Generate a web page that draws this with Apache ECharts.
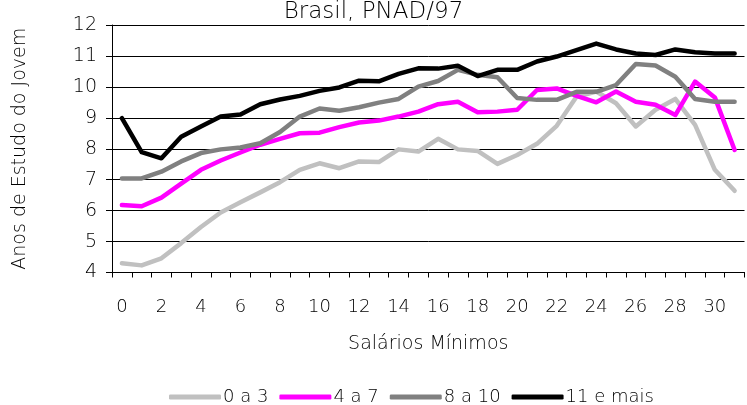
<!DOCTYPE html>
<html>
<head>
<meta charset="utf-8">
<script src="https://cdn.jsdelivr.net/npm/echarts@6/dist/echarts.min.js"></script>
<style>
html,body{margin:0;padding:0;background:#fff;}
#chart{width:747px;height:405px;}
</style>
</head>
<body>
<div id="chart"></div>
<script>
const categories = ['0','1','2','3','4','5','6','7','8','9','10','11','12','13','14','15','16','17','18','19','20','21','22','23','24','25','26','27','28','29','30','31'];
const seriesNames = ['0 a 3', '4 a 7', '8 a 10', '11 e mais'];
const s0a3 = [4.30,4.23,4.46,4.95,5.47,5.94,6.27,6.59,6.92,7.32,7.53,7.37,7.59,7.57,7.98,7.91,8.32,7.98,7.93,7.51,7.80,8.16,8.74,9.68,9.85,9.47,8.72,9.26,9.61,8.77,7.32,6.64];
const s4a7 = [6.18,6.14,6.42,6.87,7.32,7.62,7.88,8.13,8.32,8.50,8.52,8.70,8.85,8.91,9.04,9.20,9.44,9.52,9.18,9.20,9.26,9.90,9.95,9.71,9.50,9.85,9.52,9.42,9.09,10.17,9.66,7.96];
const s8a10 = [7.04,7.04,7.26,7.59,7.86,7.98,8.04,8.18,8.54,9.04,9.30,9.23,9.34,9.49,9.61,10.01,10.19,10.55,10.39,10.31,9.64,9.58,9.58,9.84,9.84,10.06,10.74,10.69,10.33,9.61,9.52,9.52];
const s11mais = [8.99,7.89,7.69,8.39,8.72,9.04,9.11,9.44,9.59,9.71,9.87,9.98,10.20,10.18,10.42,10.60,10.59,10.68,10.35,10.55,10.55,10.82,10.98,11.19,11.40,11.21,11.08,11.03,11.21,11.12,11.08,11.08];
const colors = ['#c0c0c0', '#ff00ff', '#808080', '#000000'];
const yTicks = {min: 4, max: 12, interval: 1};

const font = 'DejaVu Sans, Liberation Sans, sans-serif';
const fw = 200;
const chart = echarts.init(document.getElementById('chart'), null, {renderer: 'canvas'});
const allData = [s0a3, s4a7, s8a10, s11mais];
chart.setOption({
  animation: false,
  backgroundColor: '#ffffff',
  color: colors,
  title: {
    text: 'Brasil, PNAD/97',
    left: 'center',
    top: 1,
    padding: 0,
    textStyle: {fontFamily: font, fontSize: 23, fontWeight: fw, color: '#000'}
  },
  grid: {left: 112, right: 2.5, top: 25, bottom: 132.5, containLabel: false},
  legend: {
    data: seriesNames,
    top: 383,
    left: 164,
    icon: 'roundRect',
    itemWidth: 52,
    itemHeight: 5,
    itemGap: 11,
    textStyle: {fontFamily: font, fontSize: 18, fontWeight: fw, color: '#000', padding: [0,0,0,-3]}
  },
  xAxis: {
    type: 'category',
    data: categories,
    boundaryGap: true,
    name: 'Salários Mínimos',
    nameLocation: 'middle',
    nameGap: 62,
    nameTextStyle: {fontFamily: font, fontSize: 19, fontWeight: fw, color: '#000'},
    axisLine: {lineStyle: {color: '#000', width: 1}},
    axisTick: {show: true, length: 5, interval: 0, lineStyle: {color: '#000'}},
    axisLabel: {interval: 1, margin: 26, fontFamily: font, fontSize: 18, fontWeight: fw, color: '#000'},
    splitLine: {show: false}
  },
  yAxis: {
    type: 'value',
    min: yTicks.min,
    max: yTicks.max,
    interval: yTicks.interval,
    name: 'Anos de Estudo do Jovem',
    nameLocation: 'middle',
    nameGap: 82,
    nameTextStyle: {fontFamily: font, fontSize: 19, fontWeight: fw, color: '#000'},
    axisLine: {show: true, lineStyle: {color: '#000', width: 1}},
    axisTick: {show: true, length: 6, lineStyle: {color: '#000'}},
    axisLabel: {margin: 15, fontFamily: font, fontSize: 19, fontWeight: fw, color: '#000'},
    splitLine: {show: true, lineStyle: {color: '#000', width: 1}}
  },
  series: seriesNames.map((n, i) => ({
    name: n,
    type: 'line',
    data: allData[i],
    symbol: 'none',
    smooth: false,
    lineStyle: {width: 4.5, color: colors[i], join: 'round', cap: 'round'},
    itemStyle: {color: colors[i]}
  }))
});
</script>
</body>
</html>
